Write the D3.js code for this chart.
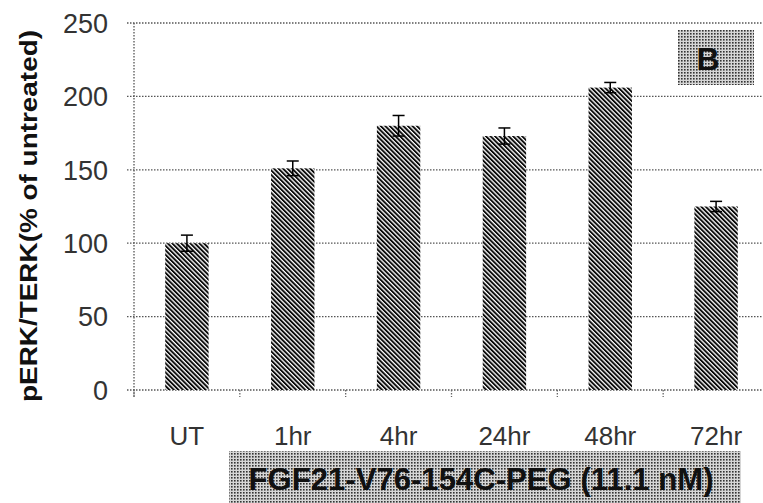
<!DOCTYPE html>
<html>
<head>
<meta charset="utf-8">
<script src="https://cdn.jsdelivr.net/npm/d3@7"></script>
<style>
html,body{margin:0;padding:0;background:#fff;}
svg{display:block;}
</style>
</head>
<body>
<svg id="chart" width="763" height="503"></svg>
<script>
const categories = ["UT", "1hr", "4hr", "24hr", "48hr", "72hr"];
const values = [100, 151, 180, 173, 206, 125];
const errors = [5.5, 5, 7, 5.5, 3.5, 3.5];
const yTicks = [0, 50, 100, 150, 200, 250];
const yLabel = "pERK/TERK(% of untreated)";
const groupLabel = "FGF21-V76-154C-PEG (11.1 nM)";
const panelLabel = "B";

(function () {
const svg = d3.select("#chart");
const mLeft = 134, mRight = 769, mTop = 23, mBottom = 390;

const defs = svg.append("defs");
const hatch = defs.append("pattern").attr("id", "hatch")
  .attr("patternUnits", "userSpaceOnUse").attr("width", 3.2).attr("height", 3.2)
  .attr("patternTransform", "rotate(-45)");
hatch.append("rect").attr("width", 3.2).attr("height", 3.2).attr("fill", "#fff");
hatch.append("rect").attr("width", 1.9).attr("height", 3.2).attr("fill", "#0a0a0a");

const dots = defs.append("pattern").attr("id", "dots")
  .attr("patternUnits", "userSpaceOnUse").attr("width", 3).attr("height", 3);
dots.append("rect").attr("width", 3).attr("height", 3).attr("fill", "#d6d6d6");
dots.append("rect").attr("width", 1.6).attr("height", 1.6).attr("fill", "#333");

const x = d3.scaleBand().domain(categories).range([mLeft, mRight])
  .paddingInner(0.59).paddingOuter(0.295);
const y = d3.scaleLinear().domain([0, 250]).range([mBottom, mTop]);

// gridlines
svg.append("g").selectAll("line").data(yTicks).join("line")
  .attr("x1", mLeft - 7).attr("x2", mRight)
  .attr("y1", d => y(d)).attr("y2", d => y(d))
  .attr("stroke", "#555").attr("stroke-width", 1.3)
  .attr("stroke-dasharray", "1.5,1.5");

// y axis line
svg.append("line").attr("x1", mLeft).attr("x2", mLeft)
  .attr("y1", mTop).attr("y2", mBottom + 7)
  .attr("stroke", "#555").attr("stroke-width", 1.3).attr("stroke-dasharray", "1.5,1.5");

// x ticks at band boundaries
const step = x.step();
svg.append("g").selectAll("line").data(categories).join("line")
  .attr("x1", d => x(d) - x.paddingInner() * step / 2)
  .attr("x2", d => x(d) - x.paddingInner() * step / 2)
  .attr("y1", mBottom).attr("y2", mBottom + 7)
  .attr("stroke", "#666").attr("stroke-width", 1.3).attr("stroke-dasharray", "1.5,1.5");

// y tick labels
svg.append("g").selectAll("text").data(yTicks).join("text")
  .attr("x", 108).attr("y", d => y(d)).attr("dy", "0.36em")
  .attr("text-anchor", "end")
  .attr("font-family", "Liberation Sans, Arial, sans-serif")
  .attr("font-size", 27).attr("fill", "#333")
  .text(d => d);

// bars
svg.append("g").selectAll("rect").data(categories).join("rect")
  .attr("x", d => x(d)).attr("width", x.bandwidth())
  .attr("y", (d, i) => y(values[i]))
  .attr("height", (d, i) => y(0) - y(values[i]))
  .attr("fill", "url(#hatch)");

// error bars
const eb = svg.append("g").attr("stroke", "#000").attr("stroke-width", 1.5);
categories.forEach((c, i) => {
  const cx = x(c) + x.bandwidth() / 2;
  const y1 = y(values[i] + errors[i]), y2 = y(values[i] - errors[i]);
  eb.append("line").attr("x1", cx).attr("x2", cx).attr("y1", y1).attr("y2", y2);
  eb.append("line").attr("x1", cx - 6).attr("x2", cx + 6).attr("y1", y1).attr("y2", y1);
  eb.append("line").attr("x1", cx - 6).attr("x2", cx + 6).attr("y1", y2).attr("y2", y2);
});

// x labels
svg.append("g").selectAll("text").data(categories).join("text")
  .attr("x", d => x(d) + x.bandwidth() / 2).attr("y", 445)
  .attr("text-anchor", "middle")
  .attr("font-family", "Liberation Sans, Arial, sans-serif")
  .attr("font-size", 26).attr("fill", "#333")
  .text(d => d);

// y label
svg.append("text")
  .attr("transform", "translate(37,216) rotate(-90)")
  .attr("text-anchor", "middle")
  .attr("font-family", "Liberation Sans, Arial, sans-serif")
  .attr("font-weight", "bold").attr("font-size", 24).attr("fill", "#111")
  .attr("textLength", 372).attr("lengthAdjust", "spacingAndGlyphs")
  .text(yLabel);

// group label box
svg.append("rect").attr("x", 229).attr("y", 451).attr("width", 512).attr("height", 60)
  .attr("fill", "url(#dots)");
svg.append("text").attr("x", 481).attr("y", 490)
  .attr("text-anchor", "middle")
  .attr("font-family", "Liberation Sans, Arial, sans-serif")
  .attr("font-weight", "bold")
  .attr("font-size", 31).attr("fill", "#111")
  .attr("textLength", 465).attr("lengthAdjust", "spacingAndGlyphs")
  .text(groupLabel);

// panel label box
svg.append("rect").attr("x", 678).attr("y", 30).attr("width", 76).attr("height", 55)
  .attr("fill", "url(#dots)");
svg.append("text").attr("x", 708).attr("y", 70)
  .attr("text-anchor", "middle")
  .attr("font-family", "Liberation Sans, Arial, sans-serif")
  .attr("font-weight", "bold")
  .attr("font-size", 32).attr("fill", "#111")
  .text(panelLabel);
})();
</script>
</body>
</html>
